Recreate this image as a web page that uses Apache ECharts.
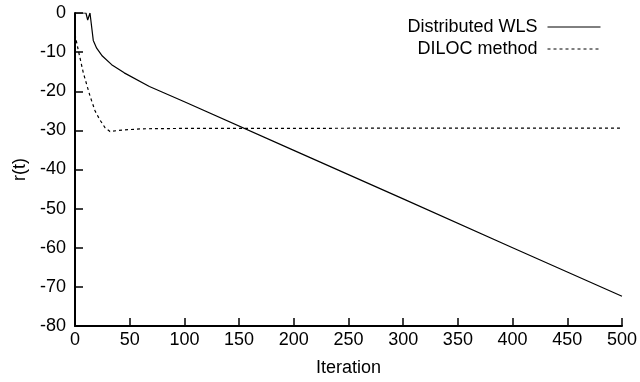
<!DOCTYPE html>
<html>
<head>
<meta charset="utf-8">
<script src="https://cdn.jsdelivr.net/npm/echarts@6/dist/echarts.min.js"></script>
<style>
  html, body { margin: 0; padding: 0; background: #fff; }
  #chart { width: 640px; height: 382px; }
</style>
</head>
<body>
<div id="chart"></div>
<script>
// values
const wlsIter = [0, 10, 11.6, 13.7, 14.6, 16.7, 19.8, 25, 33.5, 45, 68, 100, 200, 300, 400, 500];
const wlsVal = [0, 0, -1.8, 0, -0.3, -7.0, -9.0, -11.0, -13.2, -15.3, -18.8, -22.7, -35.1, -47.5, -60.0, -72.4];

const dilocIter = [0, 3, 7.6, 13.7, 18.3, 22.5, 27.4, 32, 40, 60, 100, 200, 300, 400, 500];
const dilocVal = [-5.5, -9.5, -15.3, -21.2, -25.0, -27.2, -29.3, -30.3, -30.0, -29.6, -29.5, -29.5, -29.4, -29.4, -29.4];

const seriesNames = ['Distributed WLS', 'DILOC method'];

const font = 'Liberation Sans, Arial, Helvetica, sans-serif';

function pairs(xs, ys) {
  return xs.map((x, i) => [x, ys[i]]);
}

const chart = echarts.init(document.getElementById('chart'));

const legendBase = {
  right: 39,
  padding: 0,
  itemWidth: 53,
  itemHeight: 10,
  itemGap: 10,
  align: 'right',
  itemStyle: { opacity: 0 },
  lineStyle: { width: 1 },
  textStyle: { fontFamily: font, fontSize: 18, color: '#000', padding: [0, 5, 0, 0] },
  selectedMode: false
};

chart.setOption({
  animation: false,
  backgroundColor: '#fff',
  grid: { left: 75, right: 18, top: 13, bottom: 54 },
  legend: [
    Object.assign({}, legendBase, { top: 18, data: [seriesNames[0]] }),
    Object.assign({}, legendBase, { top: 40, data: [seriesNames[1]] })
  ],
  xAxis: {
    type: 'value',
    min: 0,
    max: 500,
    interval: 50,
    name: 'Iteration',
    nameLocation: 'middle',
    nameGap: 33,
    nameTextStyle: { fontFamily: font, fontSize: 18, color: '#000' },
    axisLine: { onZero: false, lineStyle: { color: '#000', width: 2 } },
    axisTick: { inside: true, length: 8, lineStyle: { color: '#000', width: 1.5 } },
    axisLabel: { fontFamily: font, fontSize: 18, color: '#000', margin: 5 },
    splitLine: { show: false }
  },
  yAxis: {
    type: 'value',
    min: -80,
    max: 0,
    interval: 10,
    name: 'r(t)',
    nameLocation: 'middle',
    nameGap: 43,
    nameRotate: 90,
    nameTextStyle: { fontFamily: font, fontSize: 18, color: '#000' },
    axisLine: { show: true, onZero: false, lineStyle: { color: '#000', width: 2 } },
    axisTick: { show: true, inside: true, length: 8, lineStyle: { color: '#000', width: 1.5 } },
    axisLabel: { fontFamily: font, fontSize: 18, color: '#000', margin: 9 },
    splitLine: { show: false }
  },
  series: [
    {
      name: seriesNames[0],
      type: 'line',
      symbol: 'none',
      data: pairs(wlsIter, wlsVal),
      lineStyle: { color: '#000', width: 1.2 },
      itemStyle: { color: '#000' }
    },
    {
      name: seriesNames[1],
      type: 'line',
      symbol: 'none',
      data: pairs(dilocIter, dilocVal),
      lineStyle: { color: '#000', width: 1.2, type: [3, 3] },
      itemStyle: { color: '#000' }
    }
  ]
});
</script>
</body>
</html>
